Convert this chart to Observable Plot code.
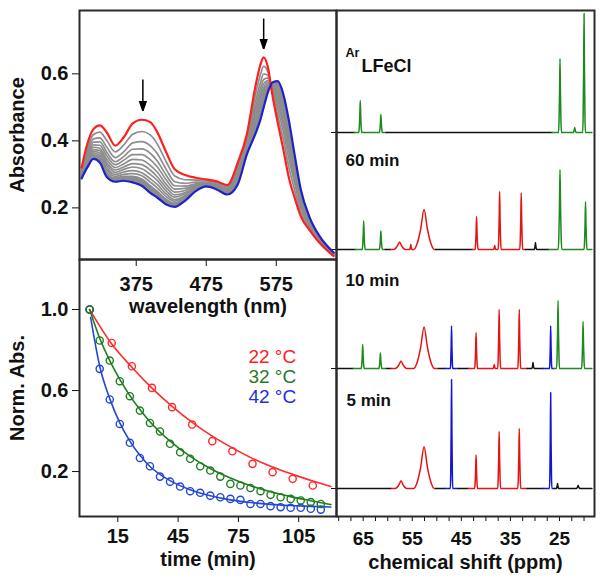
<!DOCTYPE html>
<html><head><meta charset="utf-8">
<script src="https://cdn.jsdelivr.net/npm/d3@7"></script>
<script src="https://cdn.jsdelivr.net/npm/@observablehq/plot@0.6"></script>
<style>
html,body{margin:0;padding:0;background:#fff;}
#fig{position:relative;width:604px;height:583px;}
#fig svg{position:absolute;left:0;top:0;}
</style></head><body><div id="fig"></div>
<script>
// ---------- Panel A: UV-vis spectra ----------
const wavelengths = [297,305,314,323,333,345,357,370,383,395,405,418,430,445,460,475,490,505,520,533,545,552,557,563,570,577,585,593,601,610,622,637,657];
const absFirst = [0.32,0.39,0.435,0.446,0.425,0.386,0.41,0.452,0.463,0.456,0.426,0.365,0.315,0.298,0.29,0.285,0.279,0.268,0.335,0.42,0.56,0.625,0.649,0.62,0.53,0.455,0.375,0.29,0.232,0.175,0.135,0.095,0.056];
const absLast = [0.288,0.32,0.346,0.335,0.292,0.278,0.281,0.276,0.266,0.245,0.231,0.21,0.203,0.222,0.25,0.264,0.255,0.24,0.27,0.36,0.42,0.461,0.50,0.545,0.575,0.578,0.54,0.461,0.361,0.255,0.175,0.115,0.067];
// intermediate spectra: one row per wavelength, one column per spectrum
const absIntermediate = [
[.314,.309,.306,.303,.300,.298,.296,.294,.293,.291],
[.377,.367,.359,.353,.347,.342,.338,.334,.330,.327],
[.419,.406,.396,.388,.381,.374,.369,.364,.359,.355],
[.426,.409,.397,.387,.378,.371,.364,.357,.352,.346],
[.401,.381,.366,.355,.344,.335,.327,.319,.312,.305],
[.367,.350,.338,.329,.320,.313,.306,.300,.294,.289],
[.387,.367,.353,.342,.331,.322,.315,.307,.300,.294],
[.420,.394,.375,.359,.345,.332,.322,.311,.302,.294],
[.428,.398,.376,.359,.343,.329,.317,.305,.296,.286],
[.418,.386,.363,.344,.327,.313,.300,.287,.277,.266],
[.391,.362,.340,.323,.307,.293,.282,.270,.260,.250],
[.337,.314,.297,.283,.270,.260,.250,.241,.233,.225],
[.295,.278,.266,.256,.247,.239,.232,.225,.220,.214],
[.284,.273,.265,.258,.252,.246,.242,.237,.233,.230],
[.283,.277,.272,.269,.266,.263,.260,.258,.256,.254],
[.281,.277,.275,.273,.271,.269,.268,.267,.265,.264],
[.275,.271,.268,.266,.264,.263,.261,.260,.259,.257],
[.263,.259,.256,.253,.251,.249,.247,.246,.244,.243],
[.323,.314,.306,.301,.295,.291,.287,.283,.280,.276],
[.409,.400,.394,.388,.383,.379,.376,.372,.369,.366],
[.535,.514,.498,.486,.475,.465,.456,.448,.441,.434],
[.595,.571,.553,.538,.525,.513,.504,.494,.486,.477],
[.622,.600,.583,.570,.558,.548,.539,.530,.522,.515],
[.606,.595,.587,.580,.574,.569,.564,.560,.556,.552],
[.538,.545,.550,.554,.557,.561,.563,.566,.568,.571],
[.477,.496,.509,.520,.530,.539,.546,.553,.560,.566],
[.405,.429,.448,.462,.476,.487,.497,.507,.515,.524],
[.321,.346,.365,.381,.394,.406,.417,.427,.435,.444],
[.255,.275,.289,.300,.311,.320,.327,.335,.342,.348],
[.189,.201,.210,.217,.224,.229,.234,.239,.243,.247],
[.142,.148,.153,.156,.159,.162,.165,.167,.169,.171],
[.099,.102,.104,.106,.107,.109,.110,.111,.112,.113],
[.058,.060,.061,.062,.063,.063,.064,.065,.065,.066]];
const arrowWavelength = [384.5, 557];
const arrowFrom = [0.583, 0.765];
const arrowTo = [0.49, 0.675];
const wavelengthTicks = [375, 475, 575];
const absTicks = [0.2, 0.4, 0.6];

// ---------- Panel B: kinetics ----------
const time22 = [1,12,22,32,42,52,62,72,82,92,102,112];
const norm22 = [1.0,0.835,0.72,0.613,0.518,0.432,0.35,0.30,0.238,0.197,0.164,0.131];
const time32 = [1,6,11,16,21,26,31,36,41,46,51,56,61,66,71,76,81,86,91,96,101,106,111,116];
const norm32 = [1.0,0.847,0.748,0.646,0.572,0.501,0.44,0.398,0.337,0.295,0.263,0.226,0.205,0.175,0.139,0.131,0.119,0.103,0.085,0.073,0.065,0.057,0.049,0.04];
const time42 = [1,6,11,16,21,26,31,36,41,46,51,56,61,66,71,76,81,86,91,96,101,106,111,116];
const norm42 = [1.0,0.707,0.556,0.435,0.342,0.267,0.226,0.175,0.15,0.126,0.103,0.095,0.081,0.073,0.065,0.06,0.04,0.04,0.029,0.024,0.021,0.021,0.016,0.012];
const fitTime22 = [1,12,22,32,42,52,62,72,82,92,102,112,121];
const fit22 = [1.0,0.83,0.715,0.612,0.522,0.443,0.375,0.317,0.265,0.222,0.186,0.153,0.126];
const fitTime32 = [1,6,11,16,21,26,31,41,51,61,71,81,91,101,111,121];
const fit32 = [1.0,0.858,0.748,0.655,0.575,0.506,0.446,0.35,0.275,0.215,0.168,0.13,0.1,0.076,0.056,0.037];
const fitTime42 = [1.5,6,11,16,21,26,31,36,41,51,61,71,81,91,101,111,121];
const fit42 = [0.96,0.72,0.56,0.44,0.35,0.28,0.225,0.186,0.155,0.11,0.08,0.06,0.047,0.038,0.032,0.028,0.025];
const tempLabels = ["22 °C", "32 °C", "42 °C"];
const timeTicks = [15, 45, 75, 105];
const normTicks = [0.2, 0.6, 1.0];

// ---------- Panel C: 1H NMR ----------
// peaks: [shift (ppm), intensity (a.u.), half-width (ppm)]
const peaksStart = [[65.6,32,0.1],[61.4,18,0.1],[24.9,74,0.1],[21.9,5,0.1],[20.0,119,0.09]];
const peaks60 = [[64.9,28.6,0.1],[61.4,18.6,0.1],[57.6,7.6,0.4],[55.3,5,0.08],[52.6,40,0.7],[41.9,33,0.1],[38.2,4,0.08],[37.2,58,0.1],[32.8,56.6,0.1],[29.9,7,0.08],[24.9,80,0.12],[19.7,48,0.1]];
const peaks10 = [[65.1,24,0.1],[61.5,15.6,0.1],[57.3,7.6,0.4],[52.6,41.6,0.7],[47.0,42.6,0.08],[42.0,36,0.1],[38.3,4,0.08],[37.3,59,0.1],[33.2,59,0.1],[30.4,6,0.08],[26.8,42.6,0.08],[25.3,68,0.1],[20.2,47,0.1]];
const peaks5 = [[57.3,7.7,0.4],[52.6,41.7,0.7],[47.0,109,0.08],[42.0,33.4,0.1],[37.3,57,0.1],[33.2,60,0.1],[26.8,96,0.08],[25.4,5,0.08],[21.2,3,0.12]];
// species assignment of spectral regions: [from ppm, to ppm, species]
const regionsStart = [[70.3,66.8,"none"],[66.8,60.3,"start"],[60.3,26.5,"none"],[26.5,18.4,"start"]];
const regions60 = [[70.3,66.6,"none"],[66.6,60.5,"start"],[60.5,59.4,"none"],[59.4,50.2,"product"],[50.2,42.8,"none"],[42.8,31.9,"product"],[31.9,27.2,"none"],[27.2,18.4,"start"]];
const regions10 = [[70.3,67.0,"none"],[67.0,60.2,"start"],[60.2,59.3,"none"],[59.3,49.6,"product"],[49.6,48.3,"none"],[48.3,45.6,"inter"],[45.6,43.5,"none"],[43.5,31.6,"product"],[31.6,28.3,"none"],[28.3,26.1,"inter"],[26.1,18.4,"start"]];
const regions5 = [[70.3,59.2,"none"],[59.2,50.2,"product"],[50.2,48.3,"none"],[48.3,45.7,"inter"],[45.7,43.6,"none"],[43.6,31.6,"product"],[31.6,28.3,"none"],[28.3,26.1,"inter"],[26.1,18.4,"none"]];
const shiftTicks = [70,67.5,65,62.5,60,57.5,55,52.5,50,47.5,45,42.5,40,37.5,35,32.5,30,27.5,25,22.5,20];
const shiftTickLabels = [65, 55, 45, 35, 25];

// ---------- build ----------
const FONT = "'Liberation Sans', Arial, Helvetica, sans-serif";
const W = 604, H = 583;
const baseStyle = {background: "none", fontFamily: FONT, fontWeight: "bold", color: "#111", overflow: "visible"};
const axisFont = {fontSize: 20, fontWeight: "bold", fontFamily: FONT};
const frameStroke = "#2a2a2a";

function headMarker(color) {
  const ns = "http://www.w3.org/2000/svg";
  const m = document.createElementNS(ns, "marker");
  m.setAttribute("viewBox", "-10 -5 10 10");
  m.setAttribute("markerWidth", 10);
  m.setAttribute("markerHeight", 10);
  m.setAttribute("markerUnits", "userSpaceOnUse");
  m.setAttribute("orient", "auto");
  m.setAttribute("refX", 0);
  m.setAttribute("refY", 0);
  const p = document.createElementNS(ns, "path");
  p.setAttribute("d", "M-10,-3.5L0,0L-10,3.5Z");
  p.setAttribute("fill", "#000");
  m.appendChild(p);
  return m;
}

// Panel A
const grayRows = [];
absIntermediate.forEach((row, i) => row.forEach((v, k) => grayRows.push({wl: wavelengths[i], abs: v, k})));
const firstRows = wavelengths.map((wl, i) => ({wl, abs: absFirst[i]}));
const lastRows = wavelengths.map((wl, i) => ({wl, abs: absLast[i]}));
const bandRows = wavelengths.map((wl, i) => ({wl, lo: absLast[i], hi: absIntermediate[i][absIntermediate[i].length - 1]}));
const arrowRows = arrowWavelength.map((wl, i) => ({wl, y1: arrowFrom[i], y2: arrowTo[i]}));

const plotA = Plot.plot({
  width: W, height: H,
  marginLeft: 79, marginRight: W - 336, marginTop: 10, marginBottom: H - 259,
  x: {domain: [294, 661]},
  y: {domain: [0.046, 0.789]},
  style: baseStyle,
  marks: [
    Plot.areaY(bandRows, {x: "wl", y1: "lo", y2: "hi", fill: "#8d8d8d", curve: "monotone-x"}),
    Plot.line(grayRows, {x: "wl", y: "abs", z: "k", stroke: "#8d8d8d", strokeWidth: 1.7, curve: "monotone-x"}),
    Plot.line(firstRows, {x: "wl", y: "abs", stroke: "#ff1f1f", strokeWidth: 2.2, curve: "monotone-x"}),
    Plot.line(lastRows, {x: "wl", y: "abs", stroke: "#1f22cc", strokeWidth: 2.2, curve: "monotone-x"}),
    Plot.link(arrowRows, {x1: "wl", x2: "wl", y1: "y1", y2: "y2", stroke: "#000", strokeWidth: 1.5, markerEnd: headMarker}),
    Plot.axisX({ticks: wavelengthTicks, tickSize: 7, tickPadding: 10, label: null, tickFormat: d => String(d), ...axisFont}),
    Plot.axisY({ticks: absTicks, tickSize: 7, tickPadding: 4, label: null, tickFormat: ".1f", ...axisFont}),
    Plot.frame({stroke: frameStroke, strokeWidth: 2}),
    Plot.text(["wavelength (nm)"], {text: d => d, frameAnchor: "bottom", dy: 39, lineAnchor: "top", ...axisFont}),
    Plot.text(["Absorbance"], {text: d => d, frameAnchor: "left", dx: -62, rotate: -90, lineAnchor: "middle", textAnchor: "middle", ...axisFont})
  ]
});

// Panel B
const pts = (ts, vs) => ts.map((t, i) => ({t, v: vs[i]}));
const plotB = Plot.plot({
  width: W, height: H,
  marginLeft: 79, marginRight: W - 336, marginTop: 259, marginBottom: H - 516,
  x: {domain: [-4.05, 123.8]},
  y: {domain: [-0.022, 1.247]},
  color: {type: "identity"},
  style: baseStyle,
  marks: [
    Plot.line(pts(fitTime22, fit22), {x: "t", y: "v", stroke: "#ff2a2a", strokeWidth: 1.6, curve: "monotone-x"}),
    Plot.line(pts(fitTime42, fit42), {x: "t", y: "v", stroke: "#2347d4", strokeWidth: 1.6, curve: "monotone-x"}),
    Plot.line(pts(fitTime32, fit32), {x: "t", y: "v", stroke: "#1f7d1f", strokeWidth: 1.6, curve: "monotone-x"}),
    Plot.dot(pts(time22, norm22), {x: "t", y: "v", r: 3.6, stroke: "#ff2a2a", strokeWidth: 1.4, fill: "none"}),
    Plot.dot(pts(time42, norm42), {x: "t", y: "v", r: 3.6, stroke: "#2347d4", strokeWidth: 1.4, fill: "none"}),
    Plot.dot(pts(time32, norm32), {x: "t", y: "v", r: 3.6, stroke: "#1f7d1f", strokeWidth: 1.4, fill: "none"}),
    Plot.text(tempLabels, {x: [80, 80, 80], y: [0.765, 0.666, 0.567], text: d => d, fill: ["#ff2020", "#1f7d1f", "#2030e0"], textAnchor: "start", lineAnchor: "middle", fontSize: 19, fontWeight: "normal", fontFamily: FONT}),
    Plot.axisX({ticks: timeTicks, tickSize: 6, tickPadding: 6, label: null, tickFormat: d => String(d), ...axisFont}),
    Plot.axisY({ticks: normTicks, tickSize: 7, tickPadding: 4, label: null, tickFormat: ".1f", ...axisFont}),
    Plot.frame({stroke: frameStroke, strokeWidth: 2}),
    Plot.text(["time (min)"], {text: d => d, frameAnchor: "bottom", dy: 35, lineAnchor: "top", ...axisFont}),
    Plot.text(["Norm. Abs."], {text: d => d, frameAnchor: "left", dx: -62, rotate: -90, lineAnchor: "middle", textAnchor: "middle", ...axisFont})
  ]
});

// Panel C
const speciesColor = {none: "#111111", start: "#1c8a1c", product: "#e41414", inter: "#1414d2"};
const profile = [[-3,0],[-2,0.15],[-1,0.5],[0,1],[1,0.5],[2,0.15],[3,0]];
const offsets = {start: 384, m60: 267, m10: 148, m5: 28};
function traceRows(name, offset, peaks, regions) {
  const rows = [];
  regions.forEach(([from, to, species], i) => {
    const p = [[from, 0], [to, 0]];
    for (const [c, h, g] of peaks) if (c < from && c > to) for (const [u, f] of profile) p.push([c + u * g, f * h]);
    p.sort((a, b) => b[0] - a[0]);
    for (const [ppm, v] of p) rows.push({ppm, y: offset + v, key: name + "-" + i, color: speciesColor[species]});
  });
  return rows;
}
const nmrRows = [
  ...traceRows("start", offsets.start, peaksStart, regionsStart),
  ...traceRows("m60", offsets.m60, peaks60, regions60),
  ...traceRows("m10", offsets.m10, peaks10, regions10),
  ...traceRows("m5", offsets.m5, peaks5, regions5)
];
const lab = (t, dx, dy, fs) => Plot.text([t], {text: d => d, frameAnchor: "top-left", dx, dy, lineAnchor: "top", textAnchor: "start", fontSize: fs, fontWeight: "bold", fontFamily: FONT});

const plotC = Plot.plot({
  width: W, height: H,
  marginLeft: 336, marginRight: W - 594, marginTop: 10, marginBottom: H - 516,
  x: {domain: [70.44, 17.87]},
  y: {domain: [0, 506]},
  color: {type: "identity"},
  style: baseStyle,
  marks: [
    Plot.line(nmrRows, {x: "ppm", y: "y", z: "key", stroke: "color", strokeWidth: 1.5, curve: "monotone-x"}),
    Plot.axisX({ticks: shiftTicks, tickSize: 5, tickPadding: 10, label: null, tickFormat: d => shiftTickLabels.includes(d) ? String(d) : "", ...axisFont, fontSize: 19}),
    Plot.axisY({ticks: [offsets.m5, offsets.m10, offsets.m60, offsets.start], tickSize: 5, label: null, tickFormat: () => ""}),
    Plot.frame({stroke: frameStroke, strokeWidth: 2}),
    Plot.text(["chemical shift (ppm)"], {text: d => d, frameAnchor: "bottom", dy: 38, lineAnchor: "top", ...axisFont}),
    lab("Ar", 9, 38, 12.5),
    lab("LFeCl", 25, 49, 18),
    lab("60 min", 9, 143, 17),
    lab("10 min", 9, 263, 17),
    lab("5 min", 10, 383, 17)
  ]
});

const fig = document.getElementById("fig");
fig.append(plotB, plotC, plotA);
</script></body></html>
